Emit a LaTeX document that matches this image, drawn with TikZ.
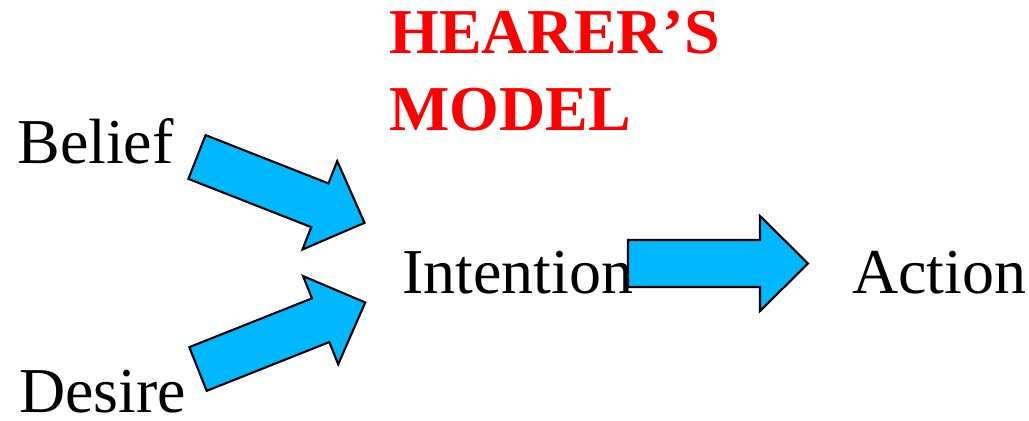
\documentclass[tikz,border=0pt]{standalone}
\usepackage{fontspec}
\setmainfont{Liberation Serif}
\definecolor{arrowblue}{RGB}{0,184,255}
\definecolor{modelred}{RGB}{255,0,0}
\tikzset{
  word/.style={anchor=base west, inner sep=0pt, font=\fontsize{36.4}{43.7}\selectfont},
  titleword/.style={anchor=base west, inner sep=0pt, text=modelred, font=\fontsize{36.4}{43.7}\selectfont\bfseries},
  blockarrow/.pic={
    \draw[line width=1.2pt, line join=miter, fill=arrowblue]
      (0,-23.5) -- (132,-23.5) -- (132,-47.5) -- (180,0)
      -- (132,47.5) -- (132,23.5) -- (0,23.5) -- cycle;
  }
}
\begin{document}
\begin{tikzpicture}[x=0.02cm, y=-0.02cm]
\useasboundingbox (0,0) rectangle (1029,420);

% Title
\node[titleword] (hearer) at (389,53) {HEARER’S};
\node[titleword] (model) at (389,130) {MODEL};

% Mental states
\node[word] (belief) at (17,163) {Belief};
\node[word] (desire) at (19,412) {Desire};
\node[word] (intention) at (402,293) {Intention};
\node[word] (action) at (852,293) {Action};

% Belief -> Intention
\path (197,157) pic[rotate=-21.45] {blockarrow};

% Desire -> Intention
\path (198,369) pic[rotate=21.7] {blockarrow};

% Intention -> Action
\path (628,263.5) pic {blockarrow};
\end{tikzpicture}
\end{document}
